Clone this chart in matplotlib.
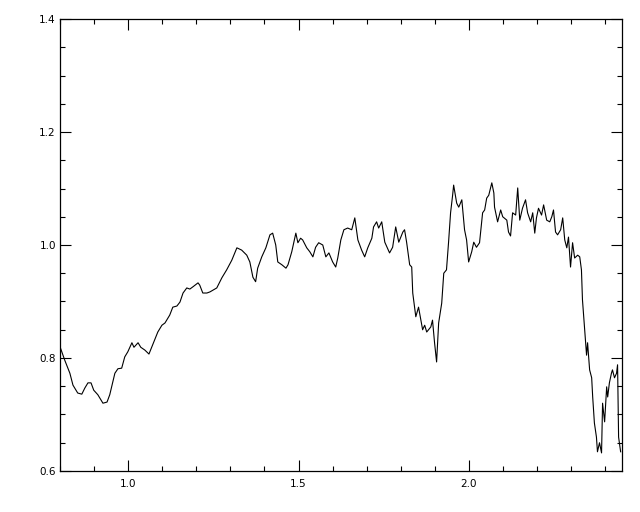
import matplotlib
matplotlib.use("Agg")
import matplotlib.pyplot as plt
from matplotlib.ticker import MultipleLocator, FixedLocator

wavelength = [
    0.800, 0.814, 0.829, 0.838, 0.852, 0.864, 0.873, 0.882, 0.891, 0.899,
    0.911, 0.926, 0.938, 0.946, 0.961, 0.970, 0.981, 0.990, 0.999, 1.011,
    1.017, 1.029, 1.037, 1.049, 1.061, 1.069, 1.078, 1.087, 1.099, 1.108,
    1.122, 1.131, 1.143, 1.152, 1.161, 1.172, 1.181, 1.190, 1.205, 1.210,
    1.219, 1.231,
    1.240, 1.260, 1.275, 1.289, 1.304, 1.319, 1.333, 1.348, 1.357, 1.366,
    1.374, 1.380, 1.392, 1.404, 1.416, 1.424, 1.433, 1.439, 1.451, 1.463,
    1.469, 1.480, 1.492, 1.498, 1.506, 1.512, 1.524, 1.533, 1.542, 1.550,
    1.559, 1.571, 1.580, 1.589, 1.600, 1.609, 1.615, 1.624, 1.633, 1.644,
    1.656, 1.665, 1.674, 1.685, 1.694, 1.703,
    1.715, 1.720, 1.729, 1.735, 1.744, 1.753, 1.767, 1.776, 1.785, 1.794,
    1.806, 1.811, 1.817, 1.826, 1.832, 1.835, 1.844, 1.852, 1.864, 1.870,
    1.876, 1.888, 1.893, 1.899, 1.905, 1.911, 1.920, 1.926, 1.934, 1.940,
    1.946, 1.952, 1.955, 1.964, 1.970, 1.979, 1.987, 1.993, 1.999, 2.008,
    2.014, 2.022, 2.031, 2.040, 2.046, 2.052, 2.058, 2.067, 2.073,
    2.075, 2.084, 2.093, 2.099, 2.111, 2.116, 2.122, 2.128, 2.137, 2.143,
    2.149, 2.157, 2.166, 2.172, 2.181, 2.187, 2.193, 2.198, 2.204, 2.213,
    2.219, 2.228, 2.237, 2.243, 2.248, 2.254, 2.260, 2.269, 2.275, 2.281,
    2.287, 2.292, 2.298, 2.304, 2.310, 2.319, 2.325, 2.330, 2.333, 2.339,
    2.345, 2.348, 2.354, 2.360, 2.363, 2.368, 2.374, 2.377, 2.383, 2.389,
    2.392, 2.398, 2.404, 2.407, 2.412, 2.418, 2.421, 2.427, 2.433, 2.436,
    2.439, 2.445,
]

flux = [
    0.820, 0.796, 0.773, 0.752, 0.738, 0.736, 0.747, 0.756, 0.756, 0.743,
    0.735, 0.720, 0.722, 0.735, 0.773, 0.781, 0.782, 0.802, 0.811, 0.827,
    0.819, 0.827, 0.819, 0.814, 0.807, 0.819, 0.832, 0.846, 0.858, 0.862,
    0.876, 0.890, 0.892, 0.899, 0.915, 0.924, 0.922, 0.926, 0.933, 0.929,
    0.915, 0.915,
    0.917, 0.924, 0.942, 0.956, 0.973, 0.995, 0.991, 0.982, 0.970, 0.943,
    0.935, 0.959, 0.979, 0.995, 1.018, 1.021, 1.000, 0.970, 0.965, 0.959,
    0.965, 0.988, 1.021, 1.004, 1.012, 1.009, 0.995, 0.988, 0.979, 0.996,
    1.004, 1.000, 0.979, 0.986, 0.970, 0.961, 0.977, 1.009, 1.027, 1.030,
    1.027, 1.048, 1.009, 0.991, 0.979, 0.995,
    1.012, 1.032, 1.041, 1.030, 1.041, 1.005, 0.986, 0.996, 1.032, 1.005,
    1.023, 1.027, 1.005, 0.965, 0.961, 0.915, 0.873, 0.890, 0.850, 0.858,
    0.846, 0.855, 0.867, 0.827, 0.793, 0.862, 0.897, 0.950, 0.956, 1.004,
    1.057, 1.088, 1.106, 1.074, 1.067, 1.080, 1.027, 1.009, 0.970, 0.988,
    1.005, 0.996, 1.004, 1.057, 1.062, 1.083, 1.088, 1.110, 1.092,
    1.067, 1.041, 1.062, 1.050, 1.044, 1.023, 1.016, 1.057, 1.053, 1.101,
    1.044, 1.065, 1.080, 1.057, 1.041, 1.057, 1.021, 1.048, 1.065, 1.053,
    1.071, 1.044, 1.041, 1.050, 1.062, 1.023, 1.018, 1.027, 1.048, 1.009,
    0.995, 1.014, 0.961, 1.004, 0.977, 0.982, 0.979, 0.956, 0.903, 0.855,
    0.805, 0.827, 0.779, 0.765, 0.731, 0.685, 0.660, 0.634, 0.650, 0.632,
    0.720, 0.687, 0.749, 0.731, 0.756, 0.773, 0.779, 0.765, 0.773, 0.788,
    0.660, 0.634,
]

x_major = [1.0, 1.5, 2.0]
x_labels = ["1.0", "1.5", "2.0"]
y_major = [0.6, 0.8, 1.0, 1.2, 1.4]
y_labels = ["0.6", "0.8", "1.0", "1.2", "1.4"]

fig = plt.figure(figsize=(6.4, 5.12), dpi=100)
ax = fig.add_axes([60 / 640, 1 - 471 / 512, 562 / 640, 452 / 512])

ax.plot(wavelength, flux, color="black", linewidth=0.8)

ax.set_xlim(0.8, 2.449)
ax.set_ylim(0.6, 1.4)

ax.xaxis.set_major_locator(FixedLocator(x_major))
ax.set_xticklabels(x_labels)
ax.xaxis.set_minor_locator(MultipleLocator(0.1))
ax.yaxis.set_major_locator(FixedLocator(y_major))
ax.set_yticklabels(y_labels)
ax.yaxis.set_minor_locator(MultipleLocator(0.05))

ax.tick_params(which="both", direction="in", top=True, right=True,
               width=0.8, colors="black", labelsize=7.5)
ax.tick_params(which="major", length=8)
ax.tick_params(which="minor", length=3.8)
ax.tick_params(axis="x", which="major", pad=6)
ax.tick_params(axis="y", which="major", pad=3)

for sp in ax.spines.values():
    sp.set_linewidth(0.9)
    sp.set_color("black")

fig.savefig("out.png", dpi=100)
